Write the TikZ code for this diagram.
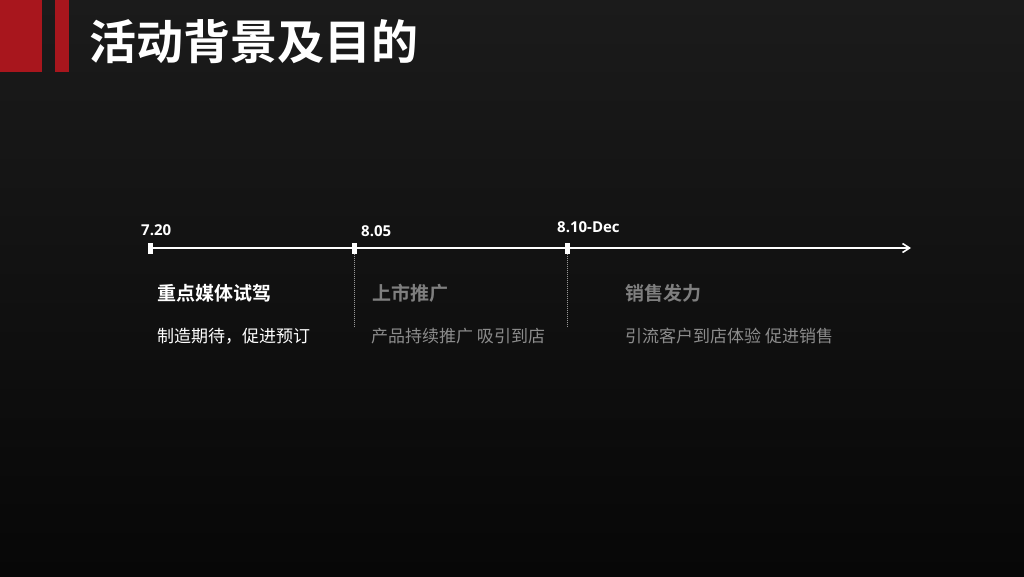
\documentclass[tikz,border=0pt]{standalone}
\usepackage{fontspec}
\setmainfont{Open Sans}
\newfontfamily\cjk{Noto Sans CJK SC}
\newfontfamily\cjkb{Noto Sans CJK SC Bold}
\newfontfamily\lat{Open Sans}
\usetikzlibrary{arrows.meta}
\definecolor{redbar}{HTML}{A8161D}
\definecolor{bgtop}{HTML}{1B1B1B}
\definecolor{bgbot}{HTML}{070707}
\definecolor{dimtxt}{HTML}{7F7F7F}
\definecolor{dimsub}{HTML}{8C8C8C}
\tikzset{
  marker/.style={draw=none,fill=white,minimum width=5pt,minimum height=11pt,inner sep=0pt},
  datelbl/.style={text=white,font=\lat\bfseries\fontsize{15}{15}\selectfont,anchor=south west,inner sep=0pt},
  head/.style={font=\cjkb\fontsize{19}{19}\selectfont,anchor=west,inner sep=0pt},
  sub/.style={font=\cjk\fontsize{17}{17}\selectfont,anchor=west,inner sep=0pt},
  divider/.style={draw=gray!80,line width=1pt,dash pattern=on 1pt off 1pt},
}
\begin{document}
\begin{tikzpicture}[x=1pt,y=-1pt]
\useasboundingbox (0,0) rectangle (1024,576);
\shade[top color=bgtop,bottom color=bgbot] (0,0) rectangle (1024,576);
\fill[redbar] (0,0) rectangle (42,72);
\fill[redbar] (55,0) rectangle (69,72);
\node[anchor=west,inner sep=0pt,text=white,font=\cjkb\fontsize{47}{47}\selectfont] (title) at (89,42) {活动背景及目的};
% timeline
\node[marker] (m1) at (150.5,248) {};
\node[marker] (m2) at (354,248) {};
\node[marker] (m3) at (567,248) {};
\coordinate (tend) at (911,248);
\draw[white,line width=2.2pt,-{Straight Barb[length=7pt,width=9pt,line width=1.6pt]}] (m1.center) -- (tend);
\node[marker] at (m1) {};
\node[marker] at (m2) {};
\node[marker] at (m3) {};
\node[datelbl] (d1) at (141,236) {7.20};
\node[datelbl] (d2) at (361,236.5) {8.05};
\node[datelbl] (d3) at (557,233) {8.10-Dec};
\coordinate (v2) at (354,326);
\coordinate (v3) at (567,326);
\draw[divider] (m2.south) -- (v2);
\draw[divider] (m3.south) -- (v3);
% texts
\node[head,text=white] (h1) at (157,293) {重点媒体试驾};
\node[head,text=dimtxt] (h2) at (372,293) {上市推广};
\node[head,text=dimtxt] (h3) at (625,293) {销售发力};
\node[sub,text=white] (s1) at (157,336) {制造期待，促进预订};
\node[sub,text=dimsub] (s2) at (371,336) {产品持续推广 吸引到店};
\node[sub,text=dimsub] (s3) at (625,336) {引流客户到店体验 促进销售};
\end{tikzpicture}
\end{document}
